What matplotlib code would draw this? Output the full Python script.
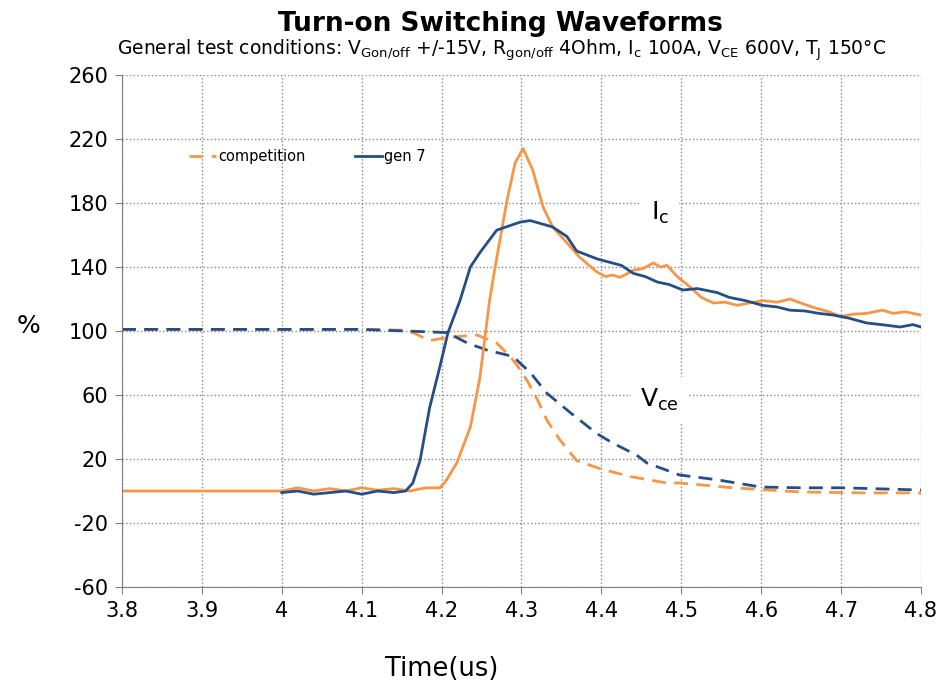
import numpy as np
import matplotlib
matplotlib.use('Agg')
import matplotlib.pyplot as plt

orange = '#F79646'
navy = '#254E86'

# Ic, competition (solid orange)
t_ic_comp = [3.80, 4.00, 4.02, 4.04, 4.06, 4.08, 4.10, 4.12, 4.14, 4.16, 4.18, 4.198,
             4.205, 4.219, 4.236, 4.248, 4.26, 4.267, 4.282, 4.292, 4.302, 4.314,
             4.327, 4.339, 4.357, 4.373, 4.394, 4.405, 4.414, 4.423, 4.433, 4.44,
             4.452, 4.465, 4.474, 4.482, 4.495, 4.511, 4.525, 4.54, 4.555, 4.57,
             4.585, 4.602, 4.62, 4.636, 4.652, 4.67, 4.685, 4.699, 4.715, 4.732,
             4.752, 4.765, 4.78, 4.80]
ic_comp = [0, 0, 2, 0, 1.5, 0, 2, 0.5, 1.5, 0, 2, 2,
           6, 17.5, 40, 71, 119, 140, 182, 205, 214, 200.6,
           177.5, 165, 155, 146, 137, 134, 135, 133.5, 136, 138,
           139, 142.5, 140, 141, 134, 127.5, 121, 117.5, 118, 116,
           117.5, 119, 118, 120, 117, 114, 112, 109, 110.5, 111,
           113, 111, 112, 110]

# Ic, gen 7 (solid navy)
t_ic_gen7 = [4.00, 4.02, 4.04, 4.06, 4.08, 4.10, 4.12, 4.14, 4.155, 4.164,
             4.173, 4.185, 4.198, 4.208, 4.223, 4.236, 4.248, 4.269, 4.298,
             4.311, 4.339, 4.357, 4.369, 4.382, 4.395, 4.41, 4.425, 4.44, 4.455,
             4.47, 4.485, 4.502, 4.52, 4.545, 4.56, 4.58, 4.602, 4.62, 4.636,
             4.655, 4.672, 4.69, 4.71, 4.732, 4.75, 4.774, 4.79, 4.80]
ic_gen7 = [-1, 0, -2, -1, 0, -2, 0, -1, 0, 5,
           19, 52, 78, 99, 119, 140, 149, 163, 168,
           169, 165, 159, 150, 147.5, 145, 143, 141, 136, 134,
           130.6, 129, 125.6, 126.5, 124, 121, 119, 116, 115, 113,
           112.5, 111, 110, 108, 105, 104, 102.5, 104, 102.5]

# Vce, competition (dashed orange)
t_vce_comp = [3.80, 3.90, 4.00, 4.10, 4.15, 4.164, 4.185, 4.207, 4.244, 4.269,
              4.282, 4.294, 4.307, 4.32, 4.332, 4.348, 4.369, 4.398, 4.436,
              4.482, 4.498, 4.565, 4.649, 4.732, 4.80]
vce_comp = [101, 101, 101, 101, 100.5, 99, 94, 96, 97.5, 92.5,
            86, 79, 69, 57, 44, 32, 19, 14, 9,
            5, 5, 2, -0.6, -1.2, -1.2]

# Vce, gen 7 (dashed navy)
t_vce_gen7 = [3.80, 3.90, 4.00, 4.10, 4.207, 4.232, 4.257, 4.29, 4.298, 4.311,
              4.332, 4.361, 4.394, 4.414, 4.444, 4.457, 4.498, 4.545, 4.599,
              4.649, 4.702, 4.80]
vce_gen7 = [101, 101, 101, 101, 99, 92.5, 88, 84, 80, 74,
            61, 49, 36, 30, 22.5, 17.5, 10, 7, 2.5,
            2, 2, 0.6]

fig = plt.figure(figsize=(9.42, 6.84), dpi=100)
ax = fig.add_axes([0.1295, 0.1418, 0.8482, 0.7486])

ax.plot(t_vce_comp, vce_comp, color=orange, lw=2, ls=(0, (5, 3)), label='competition')
ax.plot(t_vce_gen7, vce_gen7, color=navy, lw=2, ls=(0, (5, 3)))
ax.plot(t_ic_comp, ic_comp, color=orange, lw=2)
ax.plot(t_ic_gen7, ic_gen7, color=navy, lw=2, label='gen 7')

ax.set_xlim(3.8, 4.8)
ax.set_ylim(-60, 260)
ax.set_xticks(np.arange(3.8, 4.81, 0.1))
ax.set_xticklabels(['3.8', '3.9', '4', '4.1', '4.2', '4.3', '4.4', '4.5', '4.6', '4.7', '4.8'])
ax.set_yticks(np.arange(-60, 261, 40))
ax.set_yticklabels([str(v) for v in range(-60, 261, 40)])
ax.tick_params(labelsize=15, length=5, color='#808080', pad=5)
ax.grid(color='#888888', linestyle=':', linewidth=1)
ax.spines['top'].set_visible(False)
ax.spines['right'].set_visible(False)
ax.spines['left'].set_color('#808080')
ax.spines['bottom'].set_color('#808080')

ax.set_xlabel('Time(us)', fontsize=18.5)
ax.xaxis.set_label_coords(0.40, -0.135)
ax.set_ylabel('%', fontsize=18, rotation=0, va='center')
ax.yaxis.set_label_coords(-0.117, 0.51)

box = dict(facecolor='white', edgecolor='none', pad=7)
ax.text(4.473, 174, r'I$_\mathregular{c}$', fontsize=18, ha='center', va='center', bbox=box)
ax.text(4.473, 57, r'V$_\mathregular{ce}$', fontsize=18, ha='center', va='center', bbox=box)

ax.legend(loc='center left', bbox_to_anchor=(0.067, 0.84), ncol=2, frameon=False,
          fontsize=10.5, handlelength=1.9, handletextpad=0.1, columnspacing=3.4)

fig.text(0.531, 0.965, 'Turn-on Switching Waveforms', ha='center', va='center',
         fontsize=19, fontweight='bold')
fig.text(0.532, 0.927,
         r'General test conditions: V$_\mathregular{Gon/off}$ +/-15V, R$_\mathregular{gon/off}$ 4Ohm, '
         r'I$_\mathregular{c}$ 100A, V$_\mathregular{CE}$ 600V, T$_\mathregular{J}$ 150°C',
         ha='center', va='center', fontsize=13.5)

fig.savefig('out.png', dpi=100)
